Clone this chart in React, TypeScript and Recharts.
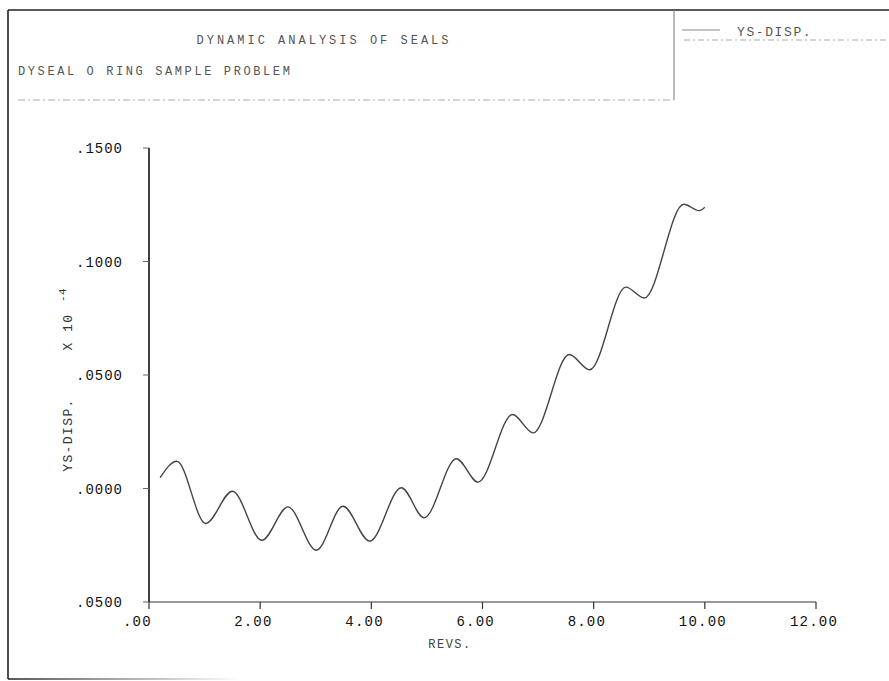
import React from 'react';
import { LineChart, Line, XAxis, YAxis, Customized } from 'recharts';

// Sampled response: revolutions vs. YS displacement (x 10^-4)
const revs = [0.2, 0.5, 1.02, 1.5, 2.03, 2.5, 3.01, 3.49, 3.97, 4.54, 4.95, 5.53, 5.92, 6.54, 6.91, 7.56, 7.93, 8.58, 8.91, 9.62, 9.9, 10.0];
const ysDisp = [0.0048, 0.012, -0.0154, -0.0012, -0.0228, -0.0081, -0.0272, -0.0078, -0.0232, 0.0003, -0.0129, 0.0131, 0.0028, 0.0326, 0.0245, 0.059, 0.0523, 0.0887, 0.0839, 0.1252, 0.1224, 0.1239];

const xTicks = [0, 2, 4, 6, 8, 10, 12];
const yTicks = [-0.05, 0, 0.05, 0.1, 0.15];

const title = 'DYNAMIC ANALYSIS OF SEALS';
const subtitle = 'DYSEAL O RING SAMPLE PROBLEM';
const seriesName = 'YS-DISP.';
const xLabel = 'REVS.';
const yLabel = 'YS-DISP.';
const yScaleLabel = 'X 10';
const yExponent = '-4';

const data = revs.map((r, i) => ({ revs: r, disp: ysDisp[i] }));

const MONO = '"Liberation Mono", "DejaVu Sans Mono", monospace';

// Plotter-style number format: no leading zero, no sign
const fmtY = (v: number) => '.' + Math.abs(v).toFixed(4).split('.')[1];
const fmtX = (v: number) => (v === 0 ? '.00' : v.toFixed(2));

const YTick = (props: any) => {
  const { x, y, payload } = props;
  return (
    <text x={x} y={y} dy={5} textAnchor="end" fill="#111" fontFamily={MONO} fontSize={14} letterSpacing={1}>
      {fmtY(payload.value)}
    </text>
  );
};

const XTick = (props: any) => {
  const { x, y, payload } = props;
  return (
    <text x={x - 26} y={y + 17} textAnchor="start" fill="#111" fontFamily={MONO} fontSize={14} letterSpacing={1.2}>
      {fmtX(payload.value)}
    </text>
  );
};

const Frame = () => (
  <g>
    <defs>
      <linearGradient id="fadeBottom" gradientUnits="userSpaceOnUse" x1={8} y1={0} x2={240} y2={0}>
        <stop offset="0" stopColor="#222" stopOpacity={1} />
        <stop offset="1" stopColor="#222" stopOpacity={0} />
      </linearGradient>
    </defs>
    {/* outer border */}
    <line x1={8} y1={10} x2={889} y2={10} stroke="#222" strokeWidth={1.6} />
    <line x1={8} y1={10} x2={8} y2={679} stroke="#222" strokeWidth={1.6} />
    <line x1={8} y1={679} x2={240} y2={679} stroke="url(#fadeBottom)" strokeWidth={1.6} />
    {/* title block */}
    <line x1={674} y1={10} x2={674} y2={100} stroke="#777" strokeWidth={1} />
    <line x1={18} y1={100} x2={674} y2={100} stroke="#aaa" strokeWidth={1} strokeDasharray="7 3 2 3" />
    <text x={324} y={44} textAnchor="middle" fill="#555" fontFamily={MONO} fontSize={12} letterSpacing={3}>
      {title}
    </text>
    <text x={18} y={75} textAnchor="start" fill="#555" fontFamily={MONO} fontSize={12} letterSpacing={2.6}>
      {subtitle}
    </text>
    {/* legend block */}
    <line x1={682} y1={30} x2={720} y2={30} stroke="#888" strokeWidth={1.2} />
    <text x={737} y={36} textAnchor="start" fill="#555" fontFamily={MONO} fontSize={13} letterSpacing={1.6}>
      {seriesName}
    </text>
    <line x1={684} y1={40} x2={889} y2={40} stroke="#aaa" strokeWidth={1} strokeDasharray="6 3 2 3" />
    {/* axis titles */}
    <text x={450} y={648} textAnchor="middle" fill="#444" fontFamily={MONO} fontSize={12} letterSpacing={1.5}>
      {xLabel}
    </text>
    <text x={72} y={435} transform="rotate(-90 72 435)" textAnchor="middle" fill="#333" fontFamily={MONO} fontSize={13} letterSpacing={1.4}>
      {yLabel}
    </text>
    <text x={72} y={332} transform="rotate(-90 72 332)" textAnchor="middle" fill="#333" fontFamily={MONO} fontSize={13} letterSpacing={1.4}>
      {yScaleLabel}
    </text>
    <text x={66} y={295} transform="rotate(-90 66 295)" textAnchor="middle" fill="#333" fontFamily={MONO} fontSize={11} letterSpacing={0.5}>
      {yExponent}
    </text>
  </g>
);

export default function App() {
  return (
    <div style={{ position: 'fixed', left: 0, top: 0, width: 889, height: 681, background: '#fff' }}>
      <LineChart
        width={889}
        height={681}
        data={data}
        margin={{ top: 148, right: 73, bottom: 39, left: 0 }}
      >
        <XAxis
          type="number"
          dataKey="revs"
          domain={[0, 12]}
          ticks={xTicks}
          height={40}
          tickSize={7}
          tickMargin={0}
          axisLine={{ stroke: '#777', strokeWidth: 1.3 }}
          tickLine={{ stroke: '#333', strokeWidth: 1.2 }}
          tick={<XTick />}
          interval={0}
        />
        <YAxis
          type="number"
          domain={[-0.05, 0.15]}
          ticks={yTicks}
          width={149}
          tickSize={6}
          tickMargin={20}
          axisLine={{ stroke: '#111', strokeWidth: 1.6 }}
          tickLine={{ stroke: '#666', strokeWidth: 1 }}
          tick={<YTick />}
          interval={0}
        />
        <Line
          type="monotone"
          dataKey="disp"
          stroke="#444"
          strokeWidth={1.4}
          dot={false}
          isAnimationActive={false}
        />
        <Customized component={<Frame />} />
      </LineChart>
    </div>
  );
}
